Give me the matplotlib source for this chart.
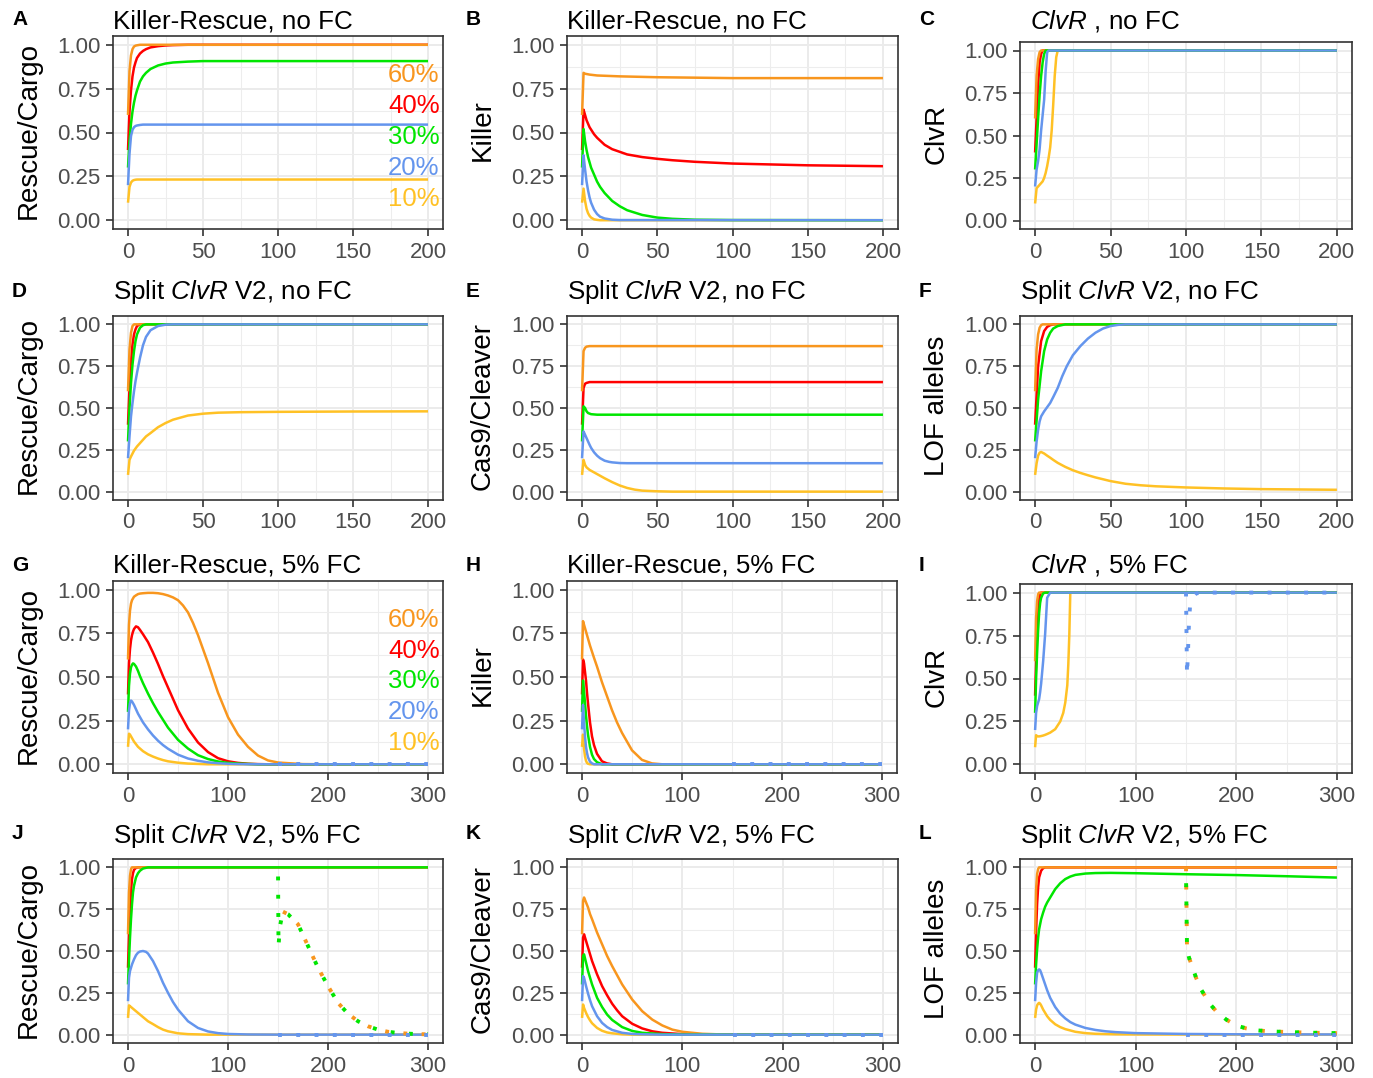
import matplotlib
matplotlib.use("Agg")
import matplotlib.pyplot as plt
from matplotlib.ticker import MultipleLocator, FormatStrFormatter

plt.rcParams['font.family'] = ['Liberation Sans', 'DejaVu Sans']
plt.rcParams['mathtext.fontset'] = 'custom'
plt.rcParams['mathtext.rm'] = 'Liberation Sans'
plt.rcParams['mathtext.it'] = 'Liberation Sans:italic'

W, H = 1373, 1078

# line colours per starting frequency
colors = {'60%': '#F8961E', '40%': '#FF0000', '30%': '#00E600',
          '20%': '#6495ED', '10%': '#FFC125'}
draw_order = ['10%', '40%', '60%', '30%', '20%']
pct_labels = ['60%', '40%', '30%', '20%', '10%']
pct_label_y = [0.825, 0.65, 0.477, 0.297, 0.12]

# ---- no FC panels (generations 0-200) ----
# A: Killer-Rescue, Rescue/Cargo
A = {
    '60%': ([0, 1, 2, 3, 4, 5, 6, 8, 200],
            [0.60, 0.85, 0.94, 0.975, 0.99, 0.995, 0.997, 1.0, 1.0]),
    '40%': ([0, 1, 2, 3, 4, 5, 6, 8, 10, 12, 15, 20, 25, 30, 40, 200],
            [0.40, 0.62, 0.74, 0.82, 0.87, 0.90, 0.925, 0.95, 0.965, 0.975, 0.985, 0.992, 0.996, 0.998, 1.0, 1.0]),
    '30%': ([0, 1, 2, 3, 4, 5, 6, 8, 10, 12, 15, 20, 25, 30, 40, 50, 200],
            [0.30, 0.45, 0.55, 0.62, 0.67, 0.71, 0.74, 0.79, 0.82, 0.84, 0.862, 0.882, 0.893, 0.899, 0.904, 0.907, 0.907]),
    '20%': ([0, 1, 2, 3, 4, 5, 6, 8, 10, 200],
            [0.20, 0.38, 0.48, 0.515, 0.53, 0.537, 0.54, 0.543, 0.545, 0.545]),
    '10%': ([0, 1, 2, 3, 4, 5, 6, 200],
            [0.10, 0.19, 0.215, 0.225, 0.229, 0.231, 0.232, 0.232]),
}
# B: Killer-Rescue, Killer
B = {
    '60%': ([0, 1, 2, 5, 10, 25, 50, 100, 150, 200],
            [0.60, 0.84, 0.835, 0.83, 0.825, 0.82, 0.815, 0.81, 0.81, 0.81]),
    '40%': ([0, 1, 2, 3, 5, 8, 10, 15, 20, 25, 30, 40, 50, 60, 75, 100, 150, 200],
            [0.40, 0.63, 0.60, 0.57, 0.53, 0.49, 0.47, 0.43, 0.405, 0.39, 0.375, 0.36, 0.35, 0.342, 0.333, 0.323, 0.313, 0.308]),
    '30%': ([0, 1, 2, 3, 4, 5, 6, 8, 10, 12, 15, 20, 25, 30, 40, 50, 60, 75, 100, 200],
            [0.30, 0.52, 0.45, 0.40, 0.36, 0.33, 0.30, 0.26, 0.22, 0.19, 0.155, 0.11, 0.08, 0.057, 0.03, 0.015, 0.008, 0.003, 0.001, 0.0]),
    '20%': ([0, 1, 2, 3, 4, 5, 6, 8, 10, 12, 15, 20, 25, 200],
            [0.20, 0.37, 0.29, 0.22, 0.17, 0.13, 0.10, 0.06, 0.035, 0.02, 0.01, 0.003, 0.001, 0.0]),
    '10%': ([0, 1, 2, 3, 4, 5, 6, 8, 10, 12, 200],
            [0.10, 0.18, 0.11, 0.065, 0.04, 0.025, 0.015, 0.005, 0.002, 0.0, 0.0]),
}
# C: ClvR, ClvR
C = {
    '60%': ([0, 1, 2, 3, 4, 200], [0.60, 0.85, 0.95, 0.99, 1.0, 1.0]),
    '40%': ([0, 1, 2, 3, 4, 5, 200], [0.40, 0.60, 0.80, 0.93, 0.98, 1.0, 1.0]),
    '30%': ([0, 1, 2, 3, 4, 5, 6, 7, 200],
            [0.30, 0.45, 0.60, 0.74, 0.85, 0.93, 0.98, 1.0, 1.0]),
    '20%': ([0, 1, 2, 3, 4, 5, 6, 7, 8, 9, 200],
            [0.20, 0.30, 0.35, 0.42, 0.53, 0.62, 0.71, 0.88, 0.99, 1.0, 1.0]),
    '10%': ([0, 1, 2, 3, 4, 5, 6, 7, 8, 9, 10, 11, 12, 13, 14, 15, 200],
            [0.10, 0.19, 0.20, 0.21, 0.22, 0.23, 0.25, 0.28, 0.32, 0.37, 0.43, 0.53, 0.68, 0.85, 0.96, 1.0, 1.0]),
}
# D: Split ClvR V2, Rescue/Cargo
D = {
    '60%': ([0, 1, 2, 3, 4, 200], [0.60, 0.85, 0.95, 0.99, 1.0, 1.0]),
    '40%': ([0, 1, 2, 3, 4, 5, 6, 8, 200],
            [0.40, 0.62, 0.78, 0.88, 0.94, 0.97, 0.99, 1.0, 1.0]),
    '30%': ([0, 1, 2, 3, 4, 5, 6, 8, 10, 12, 200],
            [0.30, 0.50, 0.65, 0.76, 0.84, 0.90, 0.94, 0.98, 0.995, 1.0, 1.0]),
    '20%': ([0, 1, 2, 3, 4, 5, 6, 8, 10, 12, 15, 20, 25, 30, 200],
            [0.20, 0.33, 0.45, 0.53, 0.60, 0.66, 0.71, 0.80, 0.875, 0.925, 0.965, 0.99, 0.998, 1.0, 1.0]),
    '10%': ([0, 1, 2, 4, 6, 8, 10, 12, 15, 20, 25, 30, 40, 50, 60, 75, 100, 150, 200],
            [0.10, 0.19, 0.21, 0.245, 0.27, 0.29, 0.31, 0.33, 0.35, 0.385, 0.41, 0.43, 0.455, 0.466, 0.472, 0.475, 0.477, 0.479, 0.48]),
}
# E: Split ClvR V2, Cas9/Cleaver
E = {
    '60%': ([0, 1, 2, 3, 5, 200], [0.60, 0.84, 0.86, 0.867, 0.87, 0.87]),
    '40%': ([0, 1, 2, 3, 5, 200], [0.40, 0.62, 0.645, 0.65, 0.655, 0.655]),
    '30%': ([0, 1, 2, 3, 4, 6, 10, 200], [0.30, 0.51, 0.50, 0.48, 0.47, 0.463, 0.46, 0.46]),
    '20%': ([0, 1, 2, 3, 4, 5, 6, 8, 10, 12, 15, 18, 20, 25, 30, 200],
            [0.20, 0.36, 0.34, 0.32, 0.30, 0.28, 0.262, 0.235, 0.215, 0.2, 0.185, 0.178, 0.175, 0.171, 0.17, 0.17]),
    '10%': ([0, 1, 2, 3, 5, 8, 10, 12, 15, 20, 25, 30, 35, 40, 50, 60, 200],
            [0.10, 0.19, 0.16, 0.145, 0.13, 0.115, 0.105, 0.095, 0.08, 0.057, 0.037, 0.022, 0.012, 0.006, 0.002, 0.0, 0.0]),
}
# F: Split ClvR V2, LOF alleles
F = {
    '60%': ([0, 1, 2, 3, 4, 5, 200], [0.60, 0.85, 0.94, 0.98, 0.995, 1.0, 1.0]),
    '40%': ([0, 2, 4, 6, 8, 10, 12, 200], [0.40, 0.75, 0.90, 0.96, 0.985, 0.995, 1.0, 1.0]),
    '30%': ([0, 2, 4, 6, 8, 10, 12, 15, 20, 200],
            [0.30, 0.55, 0.72, 0.84, 0.91, 0.95, 0.975, 0.99, 1.0, 1.0]),
    '20%': ([0, 1, 2, 3, 4, 6, 8, 10, 12, 15, 18, 21, 25, 30, 35, 40, 45, 50, 55, 60, 200],
            [0.20, 0.30, 0.37, 0.42, 0.45, 0.48, 0.505, 0.53, 0.565, 0.62, 0.69, 0.75, 0.815, 0.87, 0.915, 0.95, 0.975, 0.99, 0.997, 1.0, 1.0]),
    '10%': ([0, 1, 2, 3, 4, 6, 8, 10, 12, 15, 20, 25, 30, 35, 40, 50, 60, 70, 80, 100, 125, 150, 175, 200],
            [0.10, 0.17, 0.215, 0.233, 0.237, 0.228, 0.215, 0.203, 0.19, 0.172, 0.148, 0.128, 0.112, 0.098, 0.085, 0.063, 0.047, 0.038, 0.032, 0.025, 0.019, 0.015, 0.013, 0.011]),
}

# ---- 5% FC panels (generations 0-300) ----
G = {
    '60%': ([0, 1, 2, 3, 4, 5, 6, 8, 10, 12, 15, 20, 25, 30, 35, 40, 45, 50, 55, 60, 65, 70, 75, 80, 90, 100, 110, 120, 130, 140, 150, 175, 200, 300],
            [0.60, 0.80, 0.88, 0.92, 0.94, 0.95, 0.96, 0.968, 0.975, 0.978, 0.98, 0.982, 0.982, 0.98, 0.975, 0.967, 0.956, 0.94, 0.91, 0.87, 0.81, 0.74, 0.66, 0.58, 0.41, 0.27, 0.17, 0.10, 0.05, 0.022, 0.01, 0.001, 0.0, 0.0]),
    '40%': ([0, 1, 2, 3, 4, 5, 6, 8, 10, 12, 15, 20, 25, 30, 35, 40, 50, 60, 70, 80, 90, 100, 110, 120, 130, 140, 300],
            [0.40, 0.58, 0.66, 0.71, 0.74, 0.76, 0.775, 0.79, 0.785, 0.77, 0.745, 0.70, 0.64, 0.575, 0.505, 0.44, 0.31, 0.205, 0.125, 0.07, 0.035, 0.017, 0.008, 0.003, 0.001, 0.0, 0.0]),
    '30%': ([0, 1, 2, 3, 4, 5, 6, 8, 10, 12, 15, 20, 25, 30, 35, 40, 50, 60, 70, 80, 90, 100, 110, 120, 130, 300],
            [0.30, 0.45, 0.52, 0.555, 0.57, 0.578, 0.575, 0.56, 0.535, 0.505, 0.465, 0.405, 0.35, 0.30, 0.255, 0.21, 0.14, 0.09, 0.052, 0.03, 0.016, 0.008, 0.004, 0.002, 0.0, 0.0]),
    '20%': ([0, 1, 2, 3, 4, 5, 6, 8, 10, 12, 15, 20, 25, 30, 35, 40, 50, 60, 70, 80, 90, 100, 110, 120, 300],
            [0.20, 0.31, 0.35, 0.365, 0.36, 0.35, 0.34, 0.315, 0.29, 0.27, 0.24, 0.20, 0.165, 0.135, 0.11, 0.089, 0.055, 0.033, 0.02, 0.011, 0.006, 0.003, 0.001, 0.0, 0.0]),
    '10%': ([0, 1, 2, 3, 4, 5, 6, 8, 10, 12, 15, 20, 25, 30, 35, 40, 50, 60, 70, 80, 300],
            [0.10, 0.175, 0.17, 0.16, 0.15, 0.14, 0.13, 0.115, 0.10, 0.09, 0.075, 0.057, 0.044, 0.033, 0.024, 0.017, 0.009, 0.004, 0.002, 0.0, 0.0]),
}
H_ = {
    '60%': ([0, 1, 2, 3, 4, 5, 6, 8, 10, 12, 15, 20, 25, 30, 35, 40, 50, 60, 70, 80, 300],
            [0.60, 0.82, 0.80, 0.78, 0.76, 0.74, 0.72, 0.68, 0.645, 0.61, 0.56, 0.47, 0.39, 0.31, 0.24, 0.18, 0.08, 0.025, 0.005, 0.0, 0.0]),
    '40%': ([0, 1, 2, 3, 4, 5, 6, 8, 10, 12, 15, 20, 25, 30, 300],
            [0.40, 0.60, 0.58, 0.53, 0.48, 0.41, 0.35, 0.24, 0.16, 0.11, 0.06, 0.017, 0.005, 0.0, 0.0]),
    '30%': ([0, 1, 2, 3, 4, 5, 6, 8, 10, 12, 15, 20, 300],
            [0.30, 0.48, 0.42, 0.35, 0.28, 0.22, 0.17, 0.10, 0.055, 0.03, 0.012, 0.0, 0.0]),
    '20%': ([0, 1, 2, 3, 4, 5, 6, 8, 10, 12, 300],
            [0.20, 0.34, 0.24, 0.16, 0.10, 0.065, 0.04, 0.015, 0.005, 0.0, 0.0]),
    '10%': ([0, 1, 2, 3, 4, 5, 6, 8, 300],
            [0.10, 0.17, 0.09, 0.045, 0.02, 0.008, 0.003, 0.0, 0.0]),
}
I_ = {
    '60%': ([0, 1, 2, 3, 4, 300], [0.60, 0.85, 0.95, 0.99, 1.0, 1.0]),
    '40%': ([0, 1, 2, 3, 4, 5, 6, 300], [0.40, 0.60, 0.78, 0.90, 0.96, 0.99, 1.0, 1.0]),
    '30%': ([0, 1, 2, 3, 4, 5, 6, 8, 10, 300],
            [0.30, 0.50, 0.65, 0.78, 0.88, 0.94, 0.97, 0.995, 1.0, 1.0]),
    '20%': ([0, 1, 2, 3, 4, 5, 6, 8, 10, 12, 15, 300],
            [0.20, 0.30, 0.34, 0.36, 0.38, 0.42, 0.47, 0.60, 0.76, 0.97, 1.0, 1.0]),
    '10%': ([0, 1, 2, 3, 4, 5, 6, 8, 10, 12, 15, 20, 25, 28, 30, 32, 33, 34, 35, 300],
            [0.10, 0.17, 0.165, 0.163, 0.163, 0.164, 0.165, 0.168, 0.172, 0.177, 0.185, 0.205, 0.25, 0.30, 0.36, 0.46, 0.58, 0.75, 1.0, 1.0]),
}
J = {
    '60%': ([0, 1, 2, 3, 4, 300], [0.60, 0.85, 0.95, 0.99, 1.0, 1.0]),
    '40%': ([0, 1, 2, 3, 4, 5, 6, 8, 10, 300],
            [0.40, 0.60, 0.75, 0.86, 0.93, 0.965, 0.985, 0.997, 1.0, 1.0]),
    '30%': ([0, 1, 2, 3, 4, 5, 6, 8, 10, 12, 15, 20, 300],
            [0.30, 0.45, 0.58, 0.69, 0.78, 0.85, 0.89, 0.94, 0.965, 0.98, 0.993, 1.0, 1.0]),
    '20%': ([0, 1, 2, 4, 6, 8, 10, 12, 15, 18, 20, 25, 30, 35, 40, 45, 50, 60, 70, 80, 90, 100, 120, 150, 300],
            [0.20, 0.34, 0.38, 0.42, 0.45, 0.475, 0.49, 0.497, 0.50, 0.495, 0.485, 0.44, 0.38, 0.31, 0.25, 0.195, 0.15, 0.08, 0.04, 0.019, 0.009, 0.004, 0.001, 0.0, 0.0]),
    '10%': ([0, 1, 2, 4, 6, 8, 10, 12, 15, 20, 25, 30, 35, 40, 50, 60, 80, 300],
            [0.10, 0.175, 0.17, 0.16, 0.15, 0.14, 0.13, 0.12, 0.105, 0.08, 0.063, 0.045, 0.03, 0.02, 0.008, 0.003, 0.0, 0.0]),
}
K = {
    '60%': ([0, 1, 2, 4, 6, 8, 10, 15, 20, 25, 30, 35, 40, 50, 60, 70, 80, 90, 100, 120, 140, 150, 300],
            [0.60, 0.80, 0.82, 0.79, 0.76, 0.72, 0.69, 0.61, 0.54, 0.47, 0.41, 0.355, 0.30, 0.21, 0.14, 0.09, 0.055, 0.03, 0.017, 0.005, 0.001, 0.0, 0.0]),
    '40%': ([0, 1, 2, 4, 6, 8, 10, 15, 20, 25, 30, 35, 40, 50, 60, 70, 80, 100, 120, 150, 300],
            [0.40, 0.58, 0.60, 0.56, 0.52, 0.48, 0.44, 0.36, 0.29, 0.235, 0.185, 0.145, 0.11, 0.065, 0.037, 0.02, 0.011, 0.003, 0.001, 0.0, 0.0]),
    '30%': ([0, 1, 2, 4, 6, 8, 10, 15, 20, 25, 30, 40, 50, 60, 80, 100, 150, 300],
            [0.30, 0.47, 0.48, 0.43, 0.38, 0.34, 0.30, 0.22, 0.165, 0.12, 0.088, 0.045, 0.022, 0.011, 0.003, 0.001, 0.0, 0.0]),
    '20%': ([0, 1, 2, 4, 6, 8, 10, 15, 20, 25, 30, 40, 50, 60, 80, 300],
            [0.20, 0.35, 0.34, 0.29, 0.245, 0.205, 0.17, 0.11, 0.07, 0.045, 0.028, 0.011, 0.004, 0.002, 0.0, 0.0]),
    '10%': ([0, 1, 2, 4, 6, 8, 10, 15, 20, 25, 30, 40, 50, 300],
            [0.10, 0.18, 0.16, 0.13, 0.105, 0.085, 0.068, 0.04, 0.023, 0.013, 0.008, 0.002, 0.0, 0.0]),
}
L = {
    '60%': ([0, 1, 2, 3, 4, 300], [0.60, 0.87, 0.96, 0.99, 1.0, 1.0]),
    '40%': ([0, 1, 2, 3, 4, 6, 8, 10, 300], [0.40, 0.62, 0.78, 0.88, 0.94, 0.98, 0.995, 1.0, 1.0]),
    '30%': ([0, 1, 2, 3, 4, 5, 6, 8, 10, 12, 15, 20, 25, 30, 35, 40, 50, 60, 75, 100, 150, 200, 250, 300],
            [0.30, 0.42, 0.51, 0.58, 0.63, 0.66, 0.69, 0.73, 0.765, 0.79, 0.82, 0.87, 0.905, 0.93, 0.945, 0.955, 0.963, 0.966, 0.967, 0.965, 0.959, 0.954, 0.947, 0.939]),
    '20%': ([0, 1, 2, 3, 4, 5, 6, 8, 10, 12, 15, 20, 25, 30, 35, 40, 50, 60, 70, 80, 100, 150, 200, 300],
            [0.20, 0.31, 0.37, 0.385, 0.39, 0.385, 0.37, 0.335, 0.30, 0.265, 0.22, 0.165, 0.125, 0.097, 0.075, 0.06, 0.04, 0.028, 0.02, 0.015, 0.009, 0.004, 0.002, 0.001]),
    '10%': ([0, 1, 2, 3, 4, 5, 6, 8, 10, 12, 15, 20, 25, 30, 40, 50, 60, 80, 100, 300],
            [0.10, 0.15, 0.175, 0.185, 0.19, 0.185, 0.175, 0.15, 0.13, 0.11, 0.088, 0.062, 0.045, 0.033, 0.017, 0.009, 0.005, 0.002, 0.001, 0.0]),
}

# dotted runs starting at generation 150
G_dot = {'20%': ([150, 300], [0.0, 0.0])}
H_dot = {'20%': ([150, 300], [0.0, 0.0])}
I_dot = {'20%': ([150, 151, 152, 153, 154, 156, 160, 165, 300],
                 [1.0, 0.52, 0.66, 0.83, 0.92, 0.97, 0.995, 1.0, 1.0])}
J_dot = {
    '60%': ([155, 160, 170, 180, 190, 200, 210, 220, 230, 240, 250, 260, 270, 280, 290, 300],
            [0.735, 0.72, 0.66, 0.53, 0.40, 0.29, 0.19, 0.125, 0.08, 0.05, 0.03, 0.017, 0.01, 0.006, 0.003, 0.002]),
    '30%': ([150, 150.5, 152, 155, 160, 170, 180, 190, 200, 210, 220, 230, 240, 250, 260, 270, 280, 290, 300],
            [1.0, 0.53, 0.65, 0.735, 0.72, 0.66, 0.53, 0.40, 0.29, 0.19, 0.125, 0.08, 0.05, 0.03, 0.017, 0.01, 0.006, 0.003, 0.002]),
    '20%': ([150, 300], [0.0, 0.0]),
}
K_dot = {'20%': ([150, 300], [0.0, 0.0])}
L_dot = {
    '60%': ([150, 151, 153, 156, 160, 165, 170, 175, 180, 190, 200, 210, 220, 230, 240, 250, 260, 270, 280, 290, 300],
            [1.0, 0.52, 0.46, 0.41, 0.34, 0.27, 0.22, 0.175, 0.14, 0.09, 0.055, 0.037, 0.026, 0.021, 0.018, 0.016, 0.014, 0.012, 0.011, 0.01, 0.009]),
    '30%': ([150, 151, 153, 156, 160, 165, 170, 175, 180, 190, 200, 210, 220, 230, 240, 250, 260, 270, 280, 290, 300],
            [0.96, 0.52, 0.46, 0.41, 0.34, 0.27, 0.22, 0.175, 0.14, 0.09, 0.055, 0.037, 0.026, 0.021, 0.018, 0.016, 0.014, 0.012, 0.011, 0.01, 0.009]),
    '20%': ([150, 300], [0.0, 0.0]),
}

T_KR_no = 'Killer-Rescue, no FC'
T_CL_no = r'$\mathit{ClvR}$ , no FC'
T_SP_no = r'Split $\mathit{ClvR}$ V2, no FC'
T_KR_fc = 'Killer-Rescue, 5% FC'
T_CL_fc = r'$\mathit{ClvR}$ , 5% FC'
T_SP_fc = r'Split $\mathit{ClvR}$ V2, 5% FC'

# letter, data, dotted, xmax, ylabel, title, (left, top, right, bottom) px, row, col
panels = [
    ('A', A, None, 200, 'Rescue/Cargo', T_KR_no, (113, 36, 443, 229), 0, 0),
    ('B', B, None, 200, 'Killer', T_KR_no, (567, 36, 898, 229), 0, 1),
    ('C', C, None, 200, 'ClvR', T_CL_no, (1020, 42, 1352, 229), 0, 2),
    ('D', D, None, 200, 'Rescue/Cargo', T_SP_no, (113, 316, 443, 500), 1, 0),
    ('E', E, None, 200, 'Cas9/Cleaver', T_SP_no, (567, 316, 898, 500), 1, 1),
    ('F', F, None, 200, 'LOF alleles', T_SP_no, (1020, 316, 1352, 500), 1, 2),
    ('G', G, G_dot, 300, 'Rescue/Cargo', T_KR_fc, (113, 581, 443, 773), 2, 0),
    ('H', H_, H_dot, 300, 'Killer', T_KR_fc, (567, 581, 897, 773), 2, 1),
    ('I', I_, I_dot, 300, 'ClvR', T_CL_fc, (1020, 584, 1352, 773), 2, 2),
    ('J', J, J_dot, 300, 'Rescue/Cargo', T_SP_fc, (113, 859, 443, 1043), 3, 0),
    ('K', K, K_dot, 300, 'Cas9/Cleaver', T_SP_fc, (567, 859, 898, 1043), 3, 1),
    ('L', L, L_dot, 300, 'LOF alleles', T_SP_fc, (1020, 859, 1352, 1043), 3, 2),
]

title_base = [29, 299, 573, 843]
letter_base = [25, 297, 571, 839]
letter_x = [12, 466, 919]
ylabel_x = [29, 483, 937]

fig = plt.figure(figsize=(W / 100, H / 100), dpi=100)

for letter, data, dots, xmax, ylab, title, (l, t, r, b), row, col in panels:
    ax = fig.add_axes([l / W, 1 - b / H, (r - l) / W, (b - t) / H])
    for key in draw_order:
        gx, gy = data[key]
        ax.plot(gx, gy, color=colors[key], lw=1.8, solid_capstyle='butt')
    if dots:
        for i, key in enumerate(['60%', '30%', '20%']):
            if key in dots:
                gx, gy = dots[key]
                ax.plot(gx, gy, color=colors[key], lw=2.8,
                        linestyle=(2.35 * (i % 2), (1, 3.7)))
    ax.set_xlim(-0.05 * xmax, 1.05 * xmax)
    ax.set_ylim(-0.05, 1.05)
    ax.xaxis.set_major_locator(MultipleLocator(xmax / 4 if xmax == 200 else 100))
    ax.xaxis.set_minor_locator(MultipleLocator(xmax / 8 if xmax == 200 else 50))
    ax.yaxis.set_major_locator(MultipleLocator(0.25))
    ax.yaxis.set_minor_locator(MultipleLocator(0.125))
    ax.yaxis.set_major_formatter(FormatStrFormatter('%.2f'))
    ax.grid(which='major', color='#EBEBEB', lw=1.4)
    ax.grid(which='minor', color='#EDEDED', lw=0.8)
    ax.set_axisbelow(True)
    for sp in ax.spines.values():
        sp.set_color('#333333')
        sp.set_linewidth(1.2)
    ax.tick_params(which='major', length=5, width=1.2, color='#333333',
                   labelsize=16, labelcolor='#4D4D4D', pad=4)
    ax.tick_params(which='minor', length=0)

    if letter in ('A', 'G'):
        for lab, yy in zip(pct_labels, pct_label_y):
            ax.text(0.99, yy, lab, transform=ax.get_yaxis_transform(),
                    ha='right', va='center', fontsize=18.5, color=colors[lab])

    tx = l + (10 if title.startswith('$') else 0)
    fig.text(tx / W, 1 - title_base[row] / H, title, fontsize=18.7,
             ha='left', va='baseline', color='black')
    fig.text(letter_x[col] / W, 1 - letter_base[row] / H, letter, fontsize=15,
             fontweight='bold', ha='left', va='baseline')
    fig.text(ylabel_x[col] / W, 1 - ((t + b) / 2 - 2) / H, ylab, fontsize=20,
             rotation=90, ha='center', va='center')

fig.savefig('out.png', dpi=100)
